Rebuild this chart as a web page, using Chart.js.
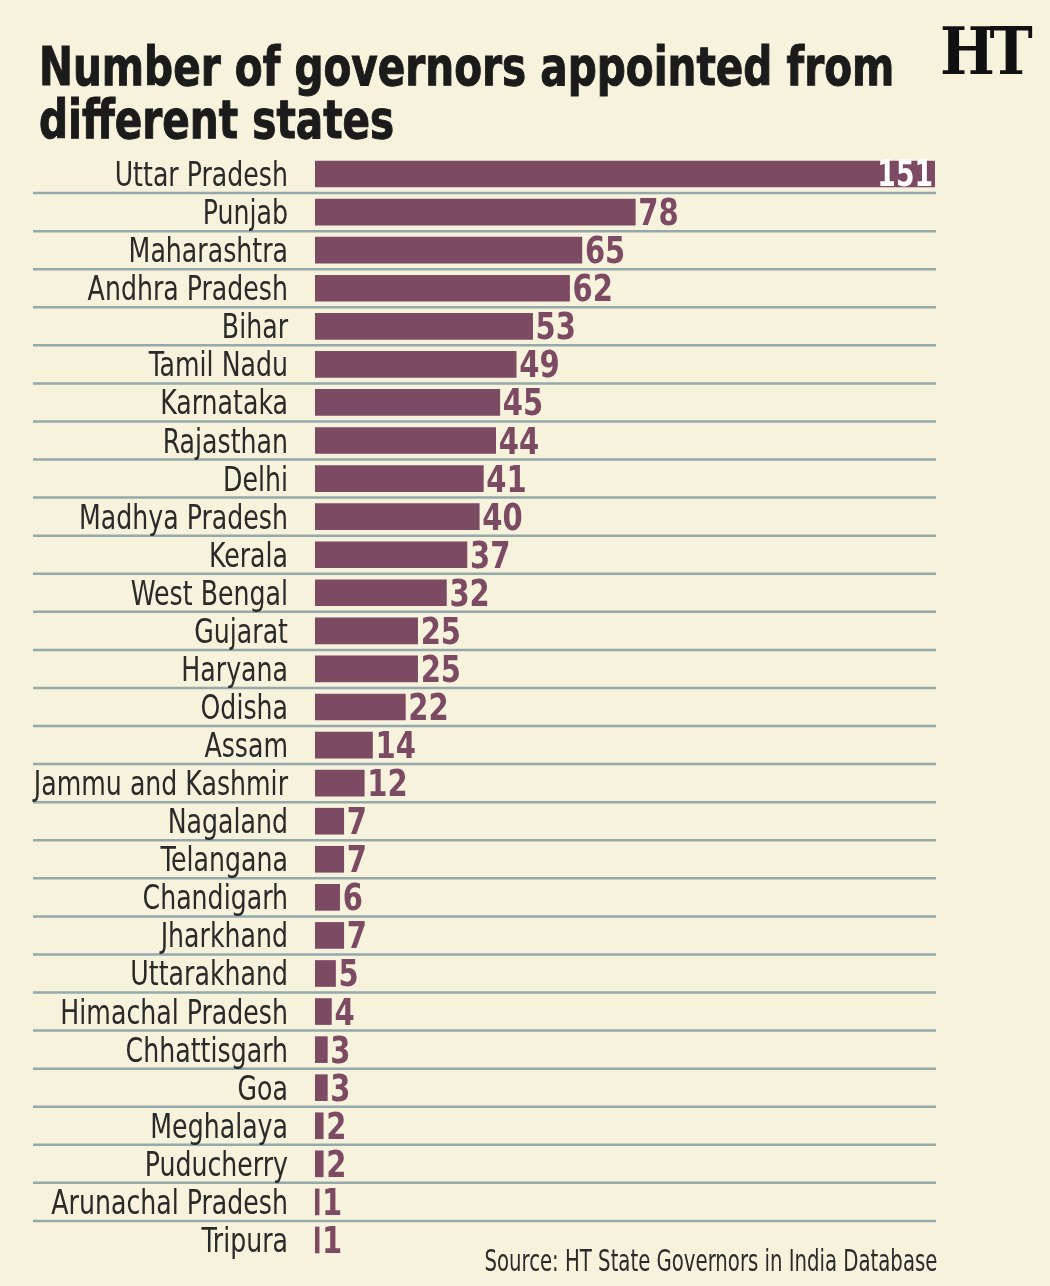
<!DOCTYPE html>
<html>
<head>
<meta charset="utf-8">
<script src="https://cdn.jsdelivr.net/npm/chart.js@4/dist/chart.umd.min.js"></script>
<style>
  html, body { margin: 0; padding: 0; background: #f6f2dc; }
  body { width: 1050px; height: 1286px; position: relative; overflow: hidden;
         font-family: "DejaVu Sans Condensed", "Roboto", sans-serif; }
  #title { position: absolute; left: 39px; top: 40px; margin: 0; font-size: 54px; line-height: 53px;
           font-weight: bold; color: #1b1b1b; white-space: nowrap;
           transform: scaleX(0.835); transform-origin: left top;
           -webkit-text-stroke: 1px #1b1b1b; }
  #logo { position: absolute; left: 940px; top: 12px; font-family: "DejaVu Serif", "Liberation Serif", serif;
          font-weight: bold; font-size: 66px; color: #111; letter-spacing: -6px;
          transform: scaleX(0.88); transform-origin: left top; }
  #wrap { position: absolute; left: 0; top: 155px; width: 1050px; height: 1104px; }
  #source { position: absolute; right: 113px; top: 1243px; font-size: 30px; color: #2b2b2b; white-space: nowrap;
            transform: scaleX(0.73); transform-origin: right top; }
</style>
</head>
<body>
<h1 id="title">Number of governors appointed from<br>different states</h1>
<div id="logo">HT</div>
<div id="wrap"><canvas id="chart" width="1050" height="1104"></canvas></div>
<div id="source">Source: HT State Governors in India Database</div>
<script>
// states, top to bottom
const states = [
  'Uttar Pradesh', 'Punjab', 'Maharashtra', 'Andhra Pradesh', 'Bihar', 'Tamil Nadu',
  'Karnataka', 'Rajasthan', 'Delhi', 'Madhya Pradesh', 'Kerala', 'West Bengal',
  'Gujarat', 'Haryana', 'Odisha', 'Assam', 'Jammu and Kashmir', 'Nagaland',
  'Telangana', 'Chandigarh', 'Jharkhand', 'Uttarakhand', 'Himachal Pradesh',
  'Chhattisgarh', 'Goa', 'Meghalaya', 'Puducherry', 'Arunachal Pradesh', 'Tripura'
];
// number of governors from each state
const governors = [
  151, 78, 65, 62, 53, 49,
  45, 44, 41, 40, 37, 32,
  25, 25, 22, 14, 12, 7,
  7, 6, 7, 5, 4,
  3, 3, 2, 2, 1, 1
];

const barColor = '#7d4a63';
const lineColor = '#95a9ab';
const labelFont = '"DejaVu Sans Condensed", sans-serif';

// row separators that run under the labels too
const separators = {
  id: 'separators',
  beforeDatasetsDraw(chart) {
    const y = chart.scales.y;
    const ctx = chart.ctx;
    ctx.save();
    ctx.strokeStyle = lineColor;
    ctx.lineWidth = 2.5;
    for (let i = 0; i < states.length - 1; i++) {
      const py = (y.getPixelForValue(i) + y.getPixelForValue(i + 1)) / 2;
      ctx.beginPath();
      ctx.moveTo(33, py);
      ctx.lineTo(936, py);
      ctx.stroke();
    }
    ctx.restore();
  }
};

// condensed state names, drawn at the y scale's tick positions
const stateLabels = {
  id: 'stateLabels',
  afterDraw(chart) {
    const y = chart.scales.y;
    const ctx = chart.ctx;
    ctx.save();
    ctx.fillStyle = '#2a2a2a';
    ctx.font = '33px ' + labelFont;
    ctx.textAlign = 'right';
    ctx.textBaseline = 'alphabetic';
    states.forEach((s, i) => {
      ctx.save();
      ctx.translate(288, y.getPixelForValue(i) + 12);
      ctx.scale(0.85, 1);
      ctx.fillText(s, 0, 0);
      ctx.restore();
    });
    ctx.restore();
  }
};

// value labels at the bar ends
const valueLabels = {
  id: 'valueLabels',
  afterDatasetsDraw(chart) {
    const ctx = chart.ctx;
    const meta = chart.getDatasetMeta(0);
    ctx.save();
    ctx.font = 'bold 38px ' + labelFont;
    ctx.textBaseline = 'alphabetic';
    meta.data.forEach((bar, i) => {
      const v = governors[i];
      ctx.save();
      if (i === 0) {
        ctx.fillStyle = '#ffffff';
        ctx.textAlign = 'right';
        ctx.translate(bar.x - 2, bar.y + 12);
        ctx.scale(0.78, 1);
      } else {
        ctx.fillStyle = barColor;
        ctx.textAlign = 'left';
        ctx.translate(bar.x + 3, bar.y + 13);
        ctx.scale(0.85, 1);
      }
      ctx.fillText(v, 0, 0);
      ctx.restore();
    });
    ctx.restore();
  }
};

new Chart(document.getElementById('chart'), {
  type: 'bar',
  data: {
    labels: states,
    datasets: [{
      data: governors,
      backgroundColor: barColor,
      borderWidth: 0,
      barThickness: 26
    }]
  },
  options: {
    indexAxis: 'y',
    responsive: false,
    animation: false,
    layout: { padding: { left: 0, right: 115, top: 0, bottom: 0 } },
    plugins: {
      legend: { display: false },
      tooltip: { enabled: false }
    },
    scales: {
      x: {
        display: false,
        min: 0,
        max: 151
      },
      y: {
        afterFit: (scale) => {
          scale.width = 315;
          scale.paddingTop = 0;
          scale.paddingBottom = 0;
        },
        border: { display: false },
        grid: { display: false, drawTicks: false },
        ticks: { display: false }
      }
    }
  },
  plugins: [separators, stateLabels, valueLabels]
});
</script>
</body>
</html>
